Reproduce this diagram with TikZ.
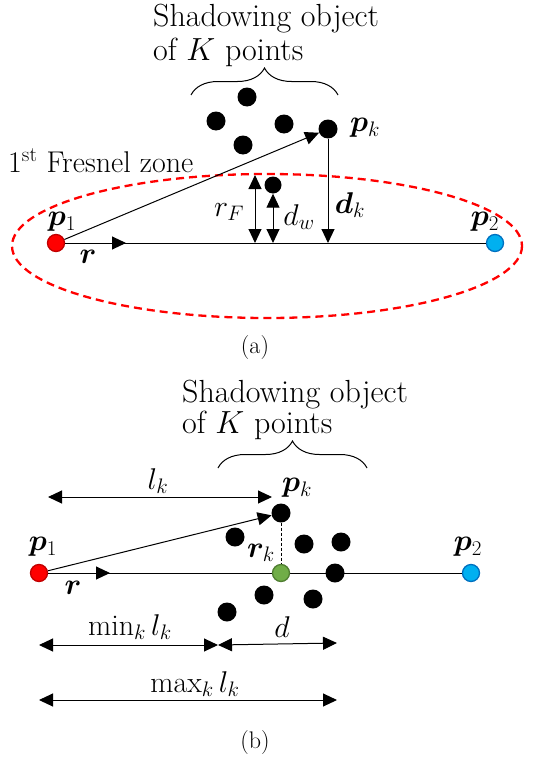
\RequirePackage{fix-cm}
\documentclass[tikz,border=0pt]{standalone}
\usepackage{amsmath,bm}
\usepackage{fontspec}
\usetikzlibrary{arrows.meta,decorations.pathreplacing}
\definecolor{pblue}{RGB}{0,176,240}
\definecolor{pblued}{RGB}{0,112,192}
\definecolor{pgreen}{RGB}{112,173,71}
\definecolor{pgreend}{RGB}{80,126,50}
\definecolor{predd}{RGB}{192,0,0}
\tikzset{
  txt/.style={font=\fontsize{30}{36}\selectfont, inner sep=0pt},
  ttxt/.style={font=\fontsize{32}{38}\selectfont, inner sep=0pt},
  mtxt/.style={font=\fontsize{30}{36}\selectfont, inner sep=0pt},
  captxt/.style={font=\fontsize{24}{28}\selectfont, inner sep=0pt},
  dot/.style={circle, fill=black, minimum size=19pt, inner sep=0pt},
  sdot/.style={circle, fill=black, minimum size=17pt, inner sep=0pt},
  rdot/.style={circle, fill=red, draw=predd, line width=1.3pt, minimum size=17pt, inner sep=0pt},
  bdot/.style={circle, fill=pblue, draw=pblued, line width=1.3pt, minimum size=17pt, inner sep=0pt},
  gdot/.style={circle, fill=pgreen, draw=pgreend, line width=1.3pt, minimum size=17pt, inner sep=0pt},
  ln/.style={line width=1pt, black},
  arr/.style={ln, -{Triangle[length=14pt,width=13pt]}},
  darr/.style={ln, {Triangle[length=14pt,width=13pt]}-{Triangle[length=14pt,width=13pt]}},
  brc/.style={ln, decorate, decoration={brace, amplitude=27pt}},
}
\begin{document}
\begin{tikzpicture}[x=1pt,y=-1pt]
\useasboundingbox (0,0) rectangle (533,760);
% ---------------- (a) ----------------
\node[ttxt, anchor=base west] (at1) at (153,27) {Shadowing object};
\node[ttxt, anchor=base west] (at2) at (153,60) {of $K$ points};
\draw[brc] (191,95) -- (338,95);
\node[dot] (a1) at (247,97) {};
\node[dot] (a2) at (216,121) {};
\node[dot] (a3) at (284,124) {};
\node[dot] (a4) at (243,145) {};
\node[dot] (apk) at (328,129) {};
\node[mtxt] (apkl) at (365,128) {$\bm{p}_k$};
\node[txt, anchor=base west] (afz) at (8,172) {1\textsuperscript{st} Fresnel zone};
\draw[red, dashed, line width=2.3pt, dash pattern=on 8pt off 5pt] (267,246) ellipse [x radius=255, y radius=72];
\node[rdot] (ap1) at (56,243) {};
\node[bdot] (ap2) at (495,243) {};
\node[sdot] (aw) at (273,185) {};
\coordinate (ar) at (126,243);
\coordinate (arF1) at (255,175);
\coordinate (arF0) at (255,243);
\coordinate (aw0) at (273,243);
\coordinate (adk0) at (328,243);
\draw[ln] (ap1) -- (ap2);
\draw[arr] (ap1) -- (ar);
\draw[arr] (ap1) -- (apk);
\draw[arr] (apk) -- (adk0);
\draw[darr] (arF0) -- (arF1);
\draw[darr] (aw0) -- (aw);
\node[mtxt] (ap1l) at (62,222) {$\bm{p}_1$};
\node[mtxt] (ap2l) at (485,222) {$\bm{p}_2$};
\node[mtxt] (arl) at (88,257) {$\bm{r}$};
\node[mtxt] (arFl) at (229,212) {$r_F$};
\node[mtxt] (adwl) at (299,217) {$d_w$};
\node[mtxt] (adkl) at (350,205) {$\bm{d}_k$};
\node[captxt] (acap) at (255,348) {(a)};
% ---------------- (b) ----------------
\node[ttxt, anchor=base west] (bt1) at (182,402) {Shadowing object};
\node[ttxt, anchor=base west] (bt2) at (182,433) {of $K$ points};
\draw[brc] (218,468) -- (367,468);
\node[dot] (bpk) at (281,513) {};
\node[dot] (b1) at (235,537) {};
\node[dot] (b2) at (304,544) {};
\node[dot] (b3) at (341,542) {};
\node[dot] (b4) at (335,573) {};
\node[dot] (b5) at (264,595) {};
\node[dot] (b6) at (313,599) {};
\node[dot] (b7) at (227,612) {};
\node[rdot] (bp1) at (39,573) {};
\node[bdot] (bp2) at (471,573) {};
\coordinate (br) at (110,573);
\draw[ln] (bp1) -- (bp2);
\node[gdot] (bg) at (281,573) {};
\draw[ln, dashed, dash pattern=on 3pt off 2pt] (bpk) -- (bg);
\draw[arr] (bp1) -- (br);
\draw[arr] (bp1) -- (bpk);
\coordinate (blk0) at (48,497);
\coordinate (blk1) at (272,497);
\draw[darr] (blk0) -- (blk1);
\coordinate (bm0) at (39,645);
\coordinate (bm1) at (218,645);
\coordinate (bd1) at (337,643);
\coordinate (bx0) at (39,700);
\coordinate (bx1) at (337,700);
\draw[darr] (bm0) -- (bm1);
\draw[darr] (bm1) -- (bd1);
\draw[darr] (bx0) -- (bx1);
\node[mtxt] (blkl) at (158,481) {$l_k$};
\node[mtxt] (bpkl) at (297,488) {$\bm{p}_k$};
\node[mtxt] (brkl) at (261,553) {$\bm{r}_k$};
\node[mtxt] (bp1l) at (43,547) {$\bm{p}_1$};
\node[mtxt] (bp2l) at (468,547) {$\bm{p}_2$};
\node[mtxt] (brl) at (73,588) {$\bm{r}$};
\node[mtxt] (bminl) at (130,627) {$\min_k l_k$};
\node[mtxt] (bdl) at (282,627) {$d$};
\node[mtxt] (bmaxl) at (195,684) {$\max_k l_k$};
\node[captxt] (bcap) at (255,743) {(b)};
\end{tikzpicture}
\end{document}
